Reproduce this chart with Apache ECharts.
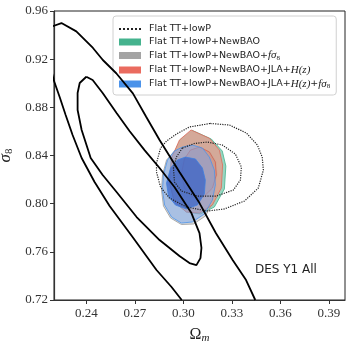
<!DOCTYPE html>
<html>
<head>
<meta charset="utf-8">
<script src="https://cdn.jsdelivr.net/npm/echarts@6/dist/echarts.min.js"></script>
<style>
html,body{margin:0;padding:0;background:#fff}
#chart{width:355px;height:348px}
</style>
</head>
<body>
<div id="chart"></div>
<script>
// axis ticks
let xTicks=[0.24,0.27,0.30,0.33,0.36,0.39]
let yTicks=[0.72,0.76,0.80,0.84,0.88,0.92,0.96]

// DES Y1 All (black, open contours run off the frame and get clipped)
let desOuter=[[0.2990,0.720],[0.2927,0.7308],[0.2834,0.7449],[0.2686,0.7723],[0.2544,0.7981],[0.2451,0.818],
  [0.2371,0.8379],[0.2315,0.857],[0.2272,0.8736],[0.2235,0.8886],[0.2198,0.9027],[0.215,0.93],[0.2165,0.946],
  [0.2246,0.950],[0.2338,0.9431],[0.2441,0.9293],[0.2502,0.9193],[0.2585,0.9083],[0.2688,0.8916],[0.2770,0.8722],
  [0.2853,0.8529],[0.2976,0.8263],[0.3100,0.8005],[0.3201,0.7756],[0.3305,0.7532],[0.3388,0.7366],[0.3445,0.720]]
let desInner=[[0.2400,0.9054],[0.2359,0.9002],[0.2346,0.8919],[0.2346,0.8778],[0.2371,0.8612],[0.2427,0.8379],
  [0.2501,0.8238],[0.2587,0.8097],[0.2711,0.7889],[0.2853,0.7698],[0.2976,0.7565],[0.3038,0.7507],[0.3081,0.749],
  [0.3106,0.7548],[0.3112,0.7632],[0.3100,0.7756],[0.3050,0.7922],[0.2945,0.8138],[0.2853,0.8296],[0.2760,0.8445],
  [0.2667,0.8603],[0.2587,0.8753],[0.2501,0.8919],[0.2439,0.9027],[0.2400,0.9054]]

// Flat TT+lowP (dotted)
let ttOuter=[[0.3167,0.8666],[0.3285,0.8653],[0.3390,0.8587],[0.3458,0.8487],[0.3488,0.8387],[0.3495,0.8279],
  [0.3464,0.813],[0.3378,0.8022],[0.3254,0.7956],[0.3149,0.7939],[0.3019,0.7972],[0.2914,0.8047],[0.2859,0.8138],
  [0.2834,0.8263],[0.2834,0.8337],[0.2859,0.8462],[0.2896,0.852],[0.2957,0.8578],[0.3038,0.8637],[0.3167,0.8666]]
let ttInner=[[0.2994,0.8462],[0.3069,0.850],[0.3149,0.8512],[0.3241,0.8487],[0.3322,0.8412],[0.3359,0.8304],
  [0.3353,0.8196],[0.3309,0.8113],[0.3204,0.8063],[0.3087,0.8063],[0.2988,0.8105],[0.2945,0.818],[0.2939,0.8296],
  [0.2957,0.8387],[0.2994,0.8462]]

// +NewBAO (green)
let baoOuter=[[0.3056,0.8608],[0.3173,0.8537],[0.3241,0.8437],[0.3263,0.8312],[0.3254,0.8122],[0.3192,0.7972],
  [0.3106,0.7914],[0.3019,0.7931],[0.2945,0.8014],[0.2914,0.818],[0.2927,0.8379],[0.2982,0.8533]]
let baoInner=[[0.3106,0.8470],[0.3167,0.8429],[0.3204,0.8346],[0.3210,0.8238],[0.3186,0.8125],[0.3130,0.8050],
  [0.3060,0.8050],[0.3010,0.8130],[0.2990,0.8246],[0.3010,0.8371],[0.3048,0.8445]]

// +NewBAO+fsigma8 (gray)
let fsOuter=[[0.3000,0.8462],[0.3063,0.8479],[0.3124,0.8454],[0.3167,0.8379],[0.3198,0.8271],[0.3204,0.8147],
  [0.3186,0.8014],[0.3136,0.7897],[0.3063,0.7831],[0.2988,0.7827],[0.2921,0.7881],[0.2877,0.7981],[0.2865,0.8113],
  [0.2871,0.8238],[0.2896,0.8362],[0.2945,0.8437]]
let fsInner=[[0.3038,0.8354],[0.3093,0.8329],[0.3130,0.8246],[0.3130,0.8147],[0.3093,0.8072],[0.3032,0.8047],
  [0.2976,0.8088],[0.2951,0.818],[0.2963,0.8279],[0.2994,0.8337]]

// +NewBAO+JLA+H(z) (red)
let hzOuter=[[0.3048,0.8612],[0.3161,0.8543],[0.3223,0.8445],[0.3243,0.8321],[0.3235,0.813],[0.3180,0.7989],
  [0.3100,0.7922],[0.3019,0.7931],[0.2945,0.8014],[0.2914,0.818],[0.2927,0.8379],[0.2976,0.8529]]
let hzInner=[[0.3100,0.8470],[0.3161,0.8429],[0.3198,0.8346],[0.3204,0.8238],[0.3180,0.813],[0.3124,0.8055],
  [0.3056,0.8055],[0.3007,0.813],[0.2988,0.8246],[0.3007,0.8371],[0.3044,0.8445]]

// +NewBAO+JLA+H(z)+fsigma8 (blue)
let allOuter=[[0.2994,0.847],[0.3056,0.8487],[0.3118,0.8462],[0.3161,0.8387],[0.3192,0.8279],[0.3198,0.8155],
  [0.3180,0.803],[0.3130,0.7914],[0.3056,0.7848],[0.2988,0.7839],[0.2927,0.7889],[0.2884,0.7989],[0.2871,0.8113],
  [0.2877,0.8238],[0.2902,0.8362],[0.2945,0.8437]]
let allInner=[[0.3013,0.8387],[0.3075,0.8371],[0.3118,0.8296],[0.3136,0.8196],[0.3130,0.808],[0.3087,0.7989],
  [0.3019,0.7956],[0.2951,0.7989],[0.2908,0.8063],[0.2896,0.8171],[0.2921,0.8296],[0.2963,0.8362]]

let names=['Flat TT+lowP','Flat TT+lowP+NewBAO','Flat TT+lowP+NewBAO+fσ8',
  'Flat TT+lowP+NewBAO+JLA+H(z)','Flat TT+lowP+NewBAO+JLA+H(z)+fσ8']

function area(name,pts,fill,stroke,z){
  return {
    type:'custom',name:name,data:pts,z:z,silent:true,clip:true,
    renderItem:function(params,api){
      if(params.dataIndex!==0) return
      return {type:'polygon',shape:{points:pts.map(p=>api.coord(p))},
        style:{fill:fill,stroke:stroke,lineWidth:0.8}}
    }
  }
}
function curve(name,pts,color,width,type,z){
  return {type:'line',name:name,data:pts,z:z,symbol:'none',showSymbol:false,silent:true,clip:true,
    itemStyle:{color:color},lineStyle:{color:color,width:width,type:type}}
}

let chart=echarts.init(document.getElementById('chart'))
let serif='Liberation Serif'
let option={
  animation:false,
  grid:{left:54,top:11,right:10,bottom:48,outerBoundsMode:'none',containLabel:false,
    show:true,borderColor:'#222',borderWidth:1},
  legend:{
    orient:'vertical',left:113,top:16,padding:[8,6,5,5],itemGap:3,
    itemWidth:22,itemHeight:7,
    backgroundColor:'#fff',borderColor:'#d0d0d0',borderWidth:1,borderRadius:3,
    data:[
      {name:names[0],itemStyle:{opacity:0}},
      {name:names[1],icon:'rect',itemStyle:{color:'#45b38e'}},
      {name:names[2],icon:'rect',itemStyle:{color:'#a4a4a4'}},
      {name:names[3],icon:'rect',itemStyle:{color:'#ea6b5f'}},
      {name:names[4],icon:'rect',itemStyle:{color:'#4b93ea'}}
    ],
    textStyle:{fontFamily:'DejaVu Sans',fontSize:9.5,color:'#222',padding:[0,0,0,3],
      rich:{m:{fontFamily:serif,fontStyle:'italic',fontSize:11,color:'#222'},
            s:{fontFamily:serif,fontSize:7,color:'#222',padding:[5,0,0,0]}}},
    formatter:function(n){
      return n.replace('fσ8','{m|fσ}{s|8}').replace('H(z)','{m|H(z)}')
    }
  },
  xAxis:{
    type:'value',min:0.22,max:0.40,
    name:'{m|Ω}{s|m}',nameLocation:'middle',nameGap:26,
    nameTextStyle:{rich:{m:{fontFamily:serif,fontSize:16,color:'#222'},
      s:{fontFamily:serif,fontStyle:'italic',fontSize:11,color:'#222',padding:[7,0,0,0]}}},
    axisLine:{lineStyle:{color:'#333',width:1.2}},
    axisTick:{show:true,length:4,customValues:xTicks,lineStyle:{color:'#333'}},
    axisLabel:{customValues:xTicks,margin:7,fontFamily:serif,fontSize:13,color:'#333',
      formatter:v=>v.toFixed(2)},
    splitLine:{show:false}
  },
  yAxis:{
    type:'value',min:yTicks[0],max:yTicks[yTicks.length-1],interval:0.04,
    name:'{m|σ}{s|8}',nameLocation:'middle',nameGap:35,nameRotate:90,
    nameTextStyle:{rich:{m:{fontFamily:serif,fontStyle:'italic',fontSize:17,color:'#222'},
      s:{fontFamily:serif,fontSize:11,color:'#222',padding:[7,0,0,0]}}},
    axisLine:{lineStyle:{color:'#333',width:1.2}},
    axisTick:{show:true,length:4,lineStyle:{color:'#333'}},
    axisLabel:{margin:6,fontFamily:serif,fontSize:13,color:'#333',formatter:v=>v.toFixed(2)},
    splitLine:{show:false}
  },
  graphic:[{type:'text',left:255,top:264,
    style:{text:'DES Y1 All',fontFamily:'DejaVu Sans',fontSize:12,fill:'#222'}}],
  series:[
    area(names[1],baoOuter,'rgba(69,179,142,0.55)','#45b38e',2),
    area(names[1],baoInner,'rgba(40,150,110,0.7)','#45b38e',2),
    area(names[2],fsOuter,'rgba(164,164,164,0.4)','#999',3),
    area(names[2],fsInner,'rgba(120,120,120,0.6)','#888',3),
    area(names[3],hzOuter,'rgba(220,165,150,0.9)','#e06a5a',4),
    area(names[3],hzInner,'rgba(205,135,125,0.35)','#d66050',4),
    area(names[4],allOuter,'rgba(120,165,235,0.5)','#4b93ea',5),
    area(names[4],allInner,'rgba(50,95,200,0.7)','#3d7fe0',5),
    curve(names[0],ttOuter,'#222',1.2,'dotted',8),
    curve(names[0],ttInner,'#222',1.2,'dotted',8),
    curve('DES Y1 All',desOuter,'#000',1.8,'solid',9),
    curve('DES Y1 All',desInner,'#000',1.8,'solid',9)
  ]
}
chart.setOption(option)
</script>
</body>
</html>
